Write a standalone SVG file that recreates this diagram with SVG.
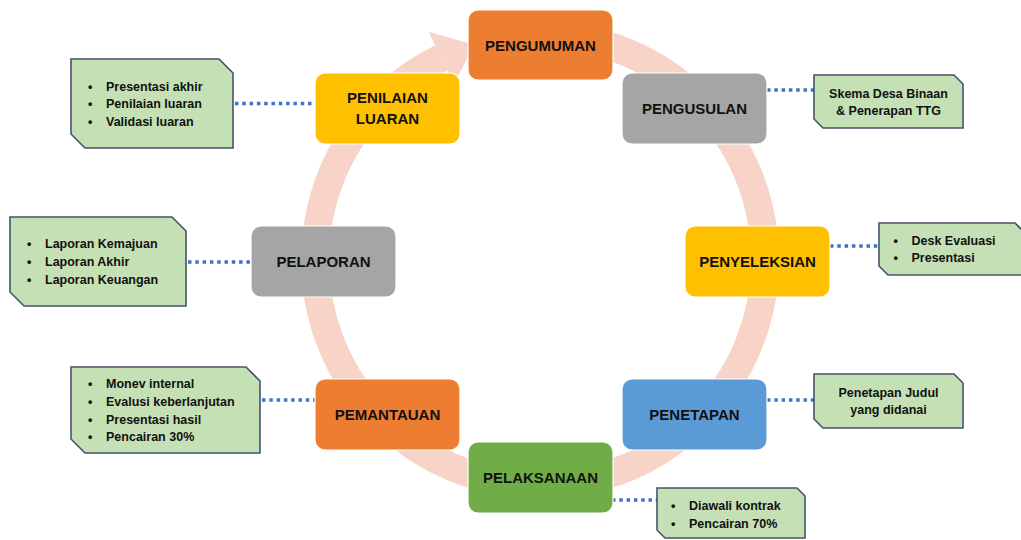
<svg xmlns="http://www.w3.org/2000/svg" width="1021" height="540" viewBox="0 0 1021 540">
<style>
.node rect{stroke:#ffffff;stroke-width:1.2}
.nt{font-family:"Liberation Sans",Arial,sans-serif;font-weight:bold;font-size:15px;fill:#111;text-anchor:middle}
.co path{fill:#C5E0B4;stroke:#44546A;stroke-width:1.6;stroke-linejoin:miter}
.ct{font-family:"Liberation Sans",Arial,sans-serif;font-weight:bold;font-size:12.5px;fill:#111}
.cc{text-anchor:middle}
.dot{stroke:#4472C4;stroke-width:3.5;stroke-dasharray:3.5 3.8;fill:none}
</style>
<rect width="1021" height="540" fill="#ffffff"/>
<g id="cycle-ring">
<path d="M540 35 A225 225 0 1 1 441.4 57.8" fill="none" stroke="#F7D3C8" stroke-width="28"/>
<polygon points="428.6,31.7 474.2,44.8 454.1,83.8" fill="#F7D3C8"/>
</g>
<g id="connectors">
<line class="dot" x1="235" y1="103.5" x2="315" y2="103.5"/>
<line class="dot" x1="188" y1="262" x2="251" y2="262"/>
<line class="dot" x1="262" y1="400" x2="318" y2="400"/>
<line class="dot" x1="767" y1="90" x2="814" y2="90"/>
<line class="dot" x1="830" y1="246" x2="879" y2="246"/>
<line class="dot" x1="767" y1="400" x2="814" y2="400"/>
<line class="dot" x1="612" y1="500" x2="657" y2="500"/>
</g>
<g id="node-pengumuman" class="node"><rect x="468" y="10" width="145" height="70" rx="10" fill="#ED7D31"/><text class="nt" x="540.5" y="50.5">PENGUMUMAN</text></g>
<g id="node-pengusulan" class="node"><rect x="622" y="73" width="145" height="71" rx="10" fill="#A5A5A5"/><text class="nt" x="694.5" y="114">PENGUSULAN</text></g>
<g id="node-penyeleksian" class="node"><rect x="685" y="226" width="145" height="71" rx="10" fill="#FFC000"/><text class="nt" x="757.5" y="267">PENYELEKSIAN</text></g>
<g id="node-penetapan" class="node"><rect x="622" y="379" width="145" height="71" rx="10" fill="#5B9BD5"/><text class="nt" x="694.5" y="420">PENETAPAN</text></g>
<g id="node-pelaksanaan" class="node"><rect x="468" y="442" width="145" height="71" rx="10" fill="#70AD47"/><text class="nt" x="540.5" y="483">PELAKSANAAN</text></g>
<g id="node-pemantauan" class="node"><rect x="315" y="379" width="145" height="71" rx="10" fill="#ED7D31"/><text class="nt" x="387.5" y="420">PEMANTAUAN</text></g>
<g id="node-pelaporan" class="node"><rect x="251" y="226" width="145" height="71" rx="10" fill="#A5A5A5"/><text class="nt" x="323.5" y="267">PELAPORAN</text></g>
<g id="node-penilaian" class="node"><rect x="315" y="73" width="145" height="71" rx="10" fill="#FFC000"/><text class="nt" x="387.5" y="103">PENILAIAN</text><text class="nt" x="387.5" y="124">LUARAN</text></g>

<g id="note-penilaian" class="co"><path d="M71 59 H219 L233 73 V148 H85 L71 134 Z"/>
<text class="ct" x="88" y="90.5">•</text><text class="ct" x="106" y="90.5">Presentasi akhir</text>
<text class="ct" x="88" y="108.3">•</text><text class="ct" x="106" y="108.3">Penilaian luaran</text>
<text class="ct" x="88" y="126">•</text><text class="ct" x="106" y="126">Validasi luaran</text></g>
<g id="note-pelaporan" class="co"><path d="M10 217 H172 L186 231 V306 H24 L10 292 Z"/>
<text class="ct" x="27" y="248.3">•</text><text class="ct" x="45" y="248.3">Laporan Kemajuan</text>
<text class="ct" x="27" y="266">•</text><text class="ct" x="45" y="266">Laporan Akhir</text>
<text class="ct" x="27" y="283.5">•</text><text class="ct" x="45" y="283.5">Laporan Keuangan</text></g>
<g id="note-pemantauan" class="co"><path d="M71 367 H246 L260 381 V453 H85 L71 439 Z"/>
<text class="ct" x="88" y="388.3">•</text><text class="ct" x="106" y="388.3">Monev internal</text>
<text class="ct" x="88" y="406">•</text><text class="ct" x="106" y="406">Evalusi keberlanjutan</text>
<text class="ct" x="88" y="423.5">•</text><text class="ct" x="106" y="423.5">Presentasi hasil</text>
<text class="ct" x="88" y="441">•</text><text class="ct" x="106" y="441">Pencairan 30%</text></g>
<g id="note-pengusulan" class="co"><path d="M814 75 H954 L963 84 V128 H823 L814 119 Z"/>
<text class="ct cc" x="888.5" y="97.5">Skema Desa Binaan</text>
<text class="ct cc" x="888.5" y="115">&amp; Penerapan TTG</text></g>
<g id="note-penyeleksian" class="co"><path d="M879 223 H1015 L1024 232 V275 H888 L879 266 Z"/>
<text class="ct" x="893.5" y="245">•</text><text class="ct" x="911.5" y="245">Desk Evaluasi</text>
<text class="ct" x="893.5" y="262.3">•</text><text class="ct" x="911.5" y="262.3">Presentasi</text></g>
<g id="note-penetapan" class="co"><path d="M814 374 H954 L963 383 V428 H823 L814 419 Z"/>
<text class="ct cc" x="888.5" y="396.7">Penetapan Judul</text>
<text class="ct cc" x="888.5" y="414.3">yang didanai</text></g>
<g id="note-pelaksanaan" class="co"><path d="M657 488 H797 L805 496 V538 H665 L657 530 Z"/>
<text class="ct" x="671" y="510">•</text><text class="ct" x="689" y="510">Diawali kontrak</text>
<text class="ct" x="671" y="527.7">•</text><text class="ct" x="689" y="527.7">Pencairan 70%</text></g>
</svg>
